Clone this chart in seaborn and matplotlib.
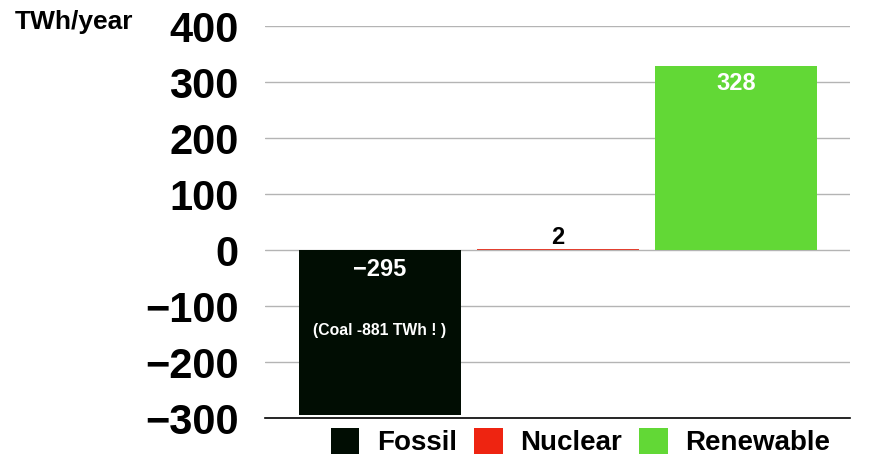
import matplotlib
matplotlib.use("Agg")
import matplotlib.pyplot as plt
from matplotlib.patches import Patch
import seaborn as sns
import pandas as pd

# Change in electricity generation by source
categories = ["Fossil", "Nuclear", "Renewable"]
values = [-295, 2, 328]
colors = ["#010d03", "#ee2411", "#62d836"]
yticks = [400, 300, 200, 100, 0, -100, -200, -300]

sns.set_theme(style="white")
plt.rcParams["font.family"] = ["Liberation Sans", "DejaVu Sans"]
plt.rcParams["font.weight"] = "bold"
plt.rcParams["text.color"] = "black"

df = pd.DataFrame({"source": categories, "twh": values})

fig = plt.figure(figsize=(8.74, 4.58), dpi=100)
ax = fig.add_axes([265 / 874, 40 / 458, 585 / 874, 392 / 458])

sns.barplot(data=df, x="source", y="twh", hue="source", order=categories,
            hue_order=categories, palette=colors, width=0.91, dodge=False,
            legend=False, ax=ax, saturation=1, linewidth=0, zorder=3)

# the tiny nuclear bar sits beneath the zero gridline
for patch in ax.patches:
    if abs(patch.get_height()) < 5:
        patch.set_zorder(0.5)

ax.set_xlim(-0.646, 2.64)
ax.set_ylim(-300, 400)
ax.set_yticks(yticks)
ax.set_yticklabels([f"{t}".replace("-", "\u2212") for t in yticks],
                   fontsize=30, fontweight="bold", color="black")
ax.tick_params(axis="y", length=0, pad=19)
ax.set_xticks([])
ax.set_xlabel("")
ax.set_ylabel("")

for s in ["left", "right", "top"]:
    ax.spines[s].set_visible(False)
ax.spines["bottom"].set_color("black")
ax.spines["bottom"].set_linewidth(1.2)
ax.spines["bottom"].set_position(("data", -300))

for t in yticks[:-1]:
    ax.axhline(t, color="#b4b4b4", linewidth=1.0, zorder=1)

# value labels
ax.annotate(f"{values[0]}".replace("-", "\u2212"), (0, 0), xytext=(0, -20),
            textcoords="offset pixels", ha="center", va="center",
            fontsize=17, fontweight="bold", color="white", zorder=5)
ax.annotate("(Coal -881 TWh ! )", (0, 0), xytext=(0, -80),
            textcoords="offset pixels", ha="center", va="center",
            fontsize=11.3, fontweight="bold", color="white", zorder=5)
ax.annotate(f"{values[1]}", (1, values[1]), xytext=(0, 11),
            textcoords="offset pixels", ha="center", va="center",
            fontsize=17, fontweight="bold", color="black", zorder=5)
ax.annotate(f"{values[2]}", (2, values[2]), xytext=(0, -17),
            textcoords="offset pixels", ha="center", va="center",
            fontsize=17, fontweight="bold", color="white", zorder=5)

fig.text(15 / 874, 1 - 22 / 458, "TWh/year", ha="left", va="center",
         fontsize=19, fontweight="bold", color="black")

handles = [Patch(facecolor=c, edgecolor="none", label=l)
           for c, l in zip(colors, categories)]
leg = fig.legend(handles=handles, loc="center left",
                 bbox_to_anchor=(331 / 874, 1 - 442 / 458), ncol=3,
                 frameon=False, prop={"size": 20, "weight": "bold"},
                 handlelength=1.02, handleheight=1.07, handletextpad=0.64,
                 columnspacing=0.62, borderpad=0, borderaxespad=0)
for txt in leg.get_texts():
    txt.set_color("black")

fig.savefig("out.png", dpi=100)
